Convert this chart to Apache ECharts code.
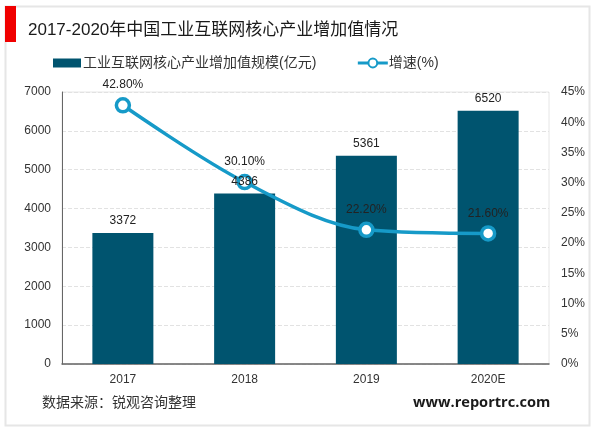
<!DOCTYPE html>
<html>
<head>
<meta charset="utf-8">
<script src="https://cdn.jsdelivr.net/npm/echarts@6/dist/echarts.min.js"></script>
<style>
html,body{margin:0;padding:0;background:#fff;}
#chart{width:600px;height:433px;}
</style>
</head>
<body>
<div id="chart"></div>
<script>
var years = ['2017', '2018', '2019', '2020E'];
var scaleValues = [3372, 4386, 5361, 6520];
var growthRates = [42.8, 30.1, 22.2, 21.6];
var barName = '工业互联网核心产业增加值规模(亿元)';
var lineName = '增速(%)';
var fontCn = '"Liberation Sans","Noto Sans CJK SC",sans-serif';

var myChart = echarts.init(document.getElementById('chart'));
var option = {
	animation: false,
	textStyle: {fontFamily: fontCn},
	title: {
		text: '2017-2020年中国工业互联网核心产业增加值情况',
		left: 23, top: 17,
		textStyle: {fontSize: 17, fontWeight: 'normal', color: '#1a1a1a', fontFamily: fontCn}
	},
	legend: {
		left: 46, top: 51,
		itemGap: 40,
		itemWidth: 30, itemHeight: 11,
		textStyle: {fontSize: 14, color: '#333', padding: [0, 0, 0, -4]},
		data: [
			{name: barName, icon: 'rect', itemStyle: {borderColor: '#fff', borderWidth: 2}},
			{name: lineName, lineStyle: {width: 3}}
		]
	},
	grid: {left: 62, right: 51, top: 92, bottom: 69, show: true, borderColor: '#e6e6e6', borderWidth: 1},
	xAxis: {
		type: 'category',
		data: years,
		axisTick: {show: false},
		axisLine: {lineStyle: {color: '#666', width: 1.5}},
		axisLabel: {fontSize: 12, color: '#333', margin: 10}
	},
	yAxis: [{
		type: 'value', min: 0, max: 7000, interval: 1000,
		axisLine: {show: true, lineStyle: {color: '#666'}},
		axisTick: {show: false},
		axisLabel: {fontSize: 12, color: '#333', margin: 11, formatter: function (v) { return String(v); }},
		splitLine: {lineStyle: {color: '#e2e2e2', type: 'dashed'}}
	}, {
		type: 'value', min: 0, max: 45, interval: 5,
		axisLine: {show: false},
		axisTick: {show: false},
		axisLabel: {fontSize: 12, color: '#333', margin: 12, formatter: '{value}%'},
		splitLine: {show: false}
	}],
	series: [{
		name: barName,
		type: 'bar',
		data: scaleValues,
		barWidth: 61,
		barGap: '-100%',
		itemStyle: {color: '#00546f'}
	}, {
		name: lineName,
		type: 'line',
		yAxisIndex: 1,
		smooth: 0.33,
		data: growthRates,
		symbol: 'circle',
		symbolSize: 13,
		lineStyle: {color: '#169ac8', width: 3.5},
		itemStyle: {color: '#fff', borderColor: '#169ac8', borderWidth: 3.5},
		label: {
			show: true, position: 'top', distance: 6, fontSize: 12, color: '#222',
			formatter: function (p) { return p.value.toFixed(2) + '%'; }
		}
	}, {
		// 柱子数值要压在折线上面，单独放一层透明柱
		name: 'barLabels',
		type: 'bar',
		z: 5,
		data: scaleValues,
		barWidth: 61,
		barGap: '-100%',
		itemStyle: {color: 'transparent'},
		label: {show: true, position: 'top', distance: 6, fontSize: 12, color: '#222'}
	}],
	graphic: [
		{type: 'rect', silent: true, z: -1, shape: {x: 5.5, y: 6.5, width: 584, height: 419},
			style: {fill: '#fff', stroke: '#e6e6e6', lineWidth: 2}},
		{type: 'rect', silent: true, shape: {x: 5, y: 6, width: 11, height: 36}, style: {fill: '#f00000'}},
		{type: 'text', left: 42, top: 396, style: {text: '数据来源：锐观咨询整理', fontSize: 14, fill: '#333', fontFamily: fontCn}},
		{type: 'text', left: 413, top: 395, style: {text: 'www.reportrc.com', fontSize: 14.6, fontWeight: 'bold', fill: '#1a1a1a', fontFamily: '"Open Sans",sans-serif'}}
	]
};
myChart.setOption(option);
</script>
</body>
</html>
